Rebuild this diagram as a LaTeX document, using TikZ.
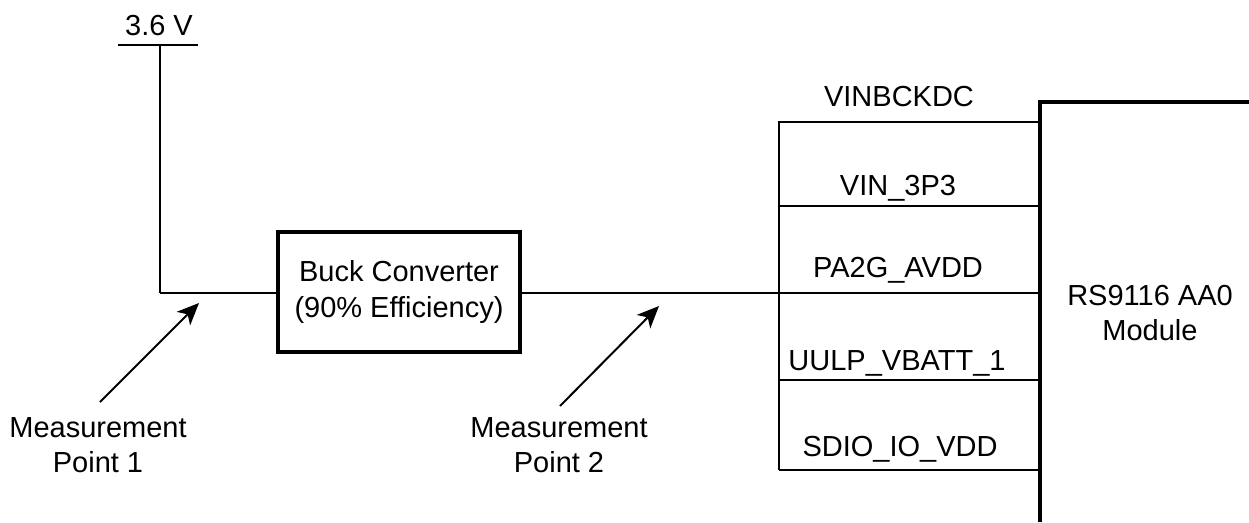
\documentclass[tikz,border=0pt]{standalone}
\usepackage{fontspec}
\setmainfont{Liberation Sans}
\usetikzlibrary{arrows.meta}
\begin{document}
\begin{tikzpicture}[x=1pt,y=-1pt,
  thin wire/.style={line width=1.8pt,line cap=butt},
  thick wire/.style={line width=3.6pt},
  lbl/.style={inner sep=0pt,font=\fontsize{29}{35}\selectfont},
  pointer/.style={line width=2pt,-{Stealth[length=22pt,width=19pt,inset=6pt]}},
  boxstyle/.style={draw,line width=3.6pt,minimum width=242pt,minimum height=120pt,align=center,inner sep=0pt,font=\fontsize{29}{36}\selectfont}]
\useasboundingbox (0,0) rectangle (1249,522);
% supply
\node[lbl,anchor=base] (v36) at (159,35) {3.6 V};
\coordinate (barL) at (118,45);
\coordinate (barR) at (198,45);
\coordinate (barM) at (160,45);
\coordinate (corner) at (160,293);
\draw[thin wire] (barL) -- (barR);
\draw[thin wire] (barM) -- (corner);
% buck converter
\node[boxstyle] (buck) at (399,292) {Buck Converter\\(90\% Efficiency)};
\draw[thin wire] (corner) -- (buck.west |- corner);
\coordinate (bus) at (780,293);
\draw[thin wire] (buck.east |- bus) -- (bus);
% measurement points
\node[lbl,align=center] (mp1) at (98,445) {Measurement\\Point 1};
\node[lbl,align=center] (mp2) at (559,445) {Measurement\\Point 2};
\coordinate (a1s) at (100,402);
\coordinate (a1e) at (199,303);
\coordinate (a2s) at (560,406);
\coordinate (a2e) at (659,306);
\draw[pointer] (a1s) -- (a1e);
\draw[pointer] (a2s) -- (a2e);
% module
\coordinate (modTR) at (1249,102);
\coordinate (modTL) at (1040,102);
\coordinate (modBL) at (1040,522);
\draw[thick wire] (modTR) -- (modTL) -- (modBL);
\node[lbl,align=center] (mod) at (1150,313) {RS9116 AA0\\Module};
% pins
\coordinate (p1) at (779,122);
\coordinate (p2) at (779,206);
\coordinate (p3) at (779,293);
\coordinate (p4) at (779,380);
\coordinate (p5) at (779,470);
\draw[thin wire] (p1 -| modTL) -- (p1) -- (p5);
\draw[thin wire] (p2) -- (p2 -| modTL);
\draw[thin wire] (p3) -- (p3 -| modTL);
\draw[thin wire] (p4) -- (p4 -| modTL);
\draw[line width=2.8pt] (p5) -- (p5 -| modTL);
\node[lbl,anchor=base] (n1) at (899,106) {VINBCKDC};
\node[lbl,anchor=base] (n2) at (898,195) {VIN\_3P3};
\node[lbl,anchor=base] (n3) at (898,277) {PA2G\_AVDD};
\node[lbl,anchor=base] (n4) at (897,370) {UULP\_VBATT\_1};
\node[lbl,anchor=base] (n5) at (900,456) {SDIO\_IO\_VDD};
\end{tikzpicture}
\end{document}
